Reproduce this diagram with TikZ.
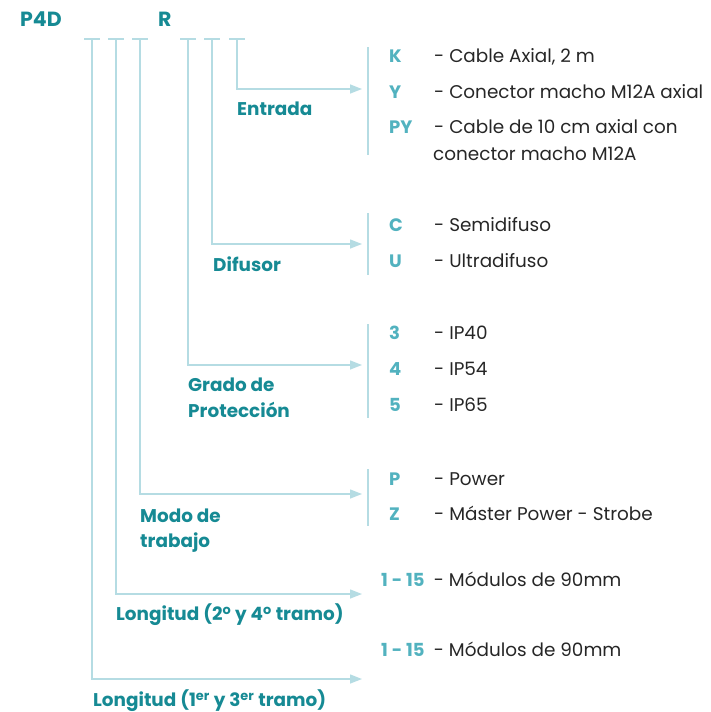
\documentclass[tikz,border=0pt]{standalone}
\usepackage{fontspec}
\setmainfont{Poppins}
\usetikzlibrary{arrows.meta}
\definecolor{tealdark}{HTML}{168A94}
\definecolor{teallight}{HTML}{52B2BF}
\definecolor{lineblue}{HTML}{B5DCE3}
\definecolor{bodytext}{HTML}{262626}
\tikzset{
  title/.style={font=\bfseries\fontsize{18.4}{22}\selectfont, text=tealdark, anchor=west, inner sep=0pt, text height=13pt, text depth=0pt},
  code/.style={font=\bfseries\fontsize{18}{22}\selectfont, text=teallight, anchor=west, inner sep=0pt, text height=13pt, text depth=0pt},
  desc/.style={font=\fontsize{18.4}{22}\selectfont, text=bodytext, anchor=west, inner sep=0pt, text height=13pt, text depth=0pt},
  tick/.style={draw=lineblue, line width=1.4pt},
  conn/.style={draw=lineblue, line width=1.4pt, -{Triangle[length=12pt,width=9pt]}},
  bracket/.style={draw=lineblue, line width=1.4pt}
}
\begin{document}
\begin{tikzpicture}[x=1pt,y=-1pt]
    \useasboundingbox (0,0) rectangle (710,712);
    % Code
    \node[title, font=\bfseries\fontsize{20.5}{24}\selectfont] (p4d) at (20,20) {P4D};
    \node[title, font=\bfseries\fontsize{20.5}{24}\selectfont] (r) at (158,20) {R};
    \foreach \n/\x in {lone/92,ltwo/116,modo/140,grado/188,dif/212,ent/237} {
        \coordinate (\n) at (\x,39);
        \draw[tick] ([xshift=-8pt]\n) -- ([xshift=8pt]\n);
    }
    % Connectors
    \foreach \n/\y in {ent/89,dif/244,grado/365,modo/494,ltwo/594,lone/679} {
        \coordinate (\n-end) at (362,\y);
        \draw[conn] (\n) |- (\n-end);
    }
    % Titles
    \node[title] (entlbl) at (237,109) {Entrada};
    \node[title] (diflbl) at (213,265) {Difusor};
    \node[title] (gradolbl) at (188,385) {Grado de};
    \node[title] (gradolblb) at (188,411) {Protección};
    \node[title] (modolbl) at (140,516) {Modo de};
    \node[title] (modolblb) at (140,541) {trabajo};
    \node[title] (ltwolbl) at (116,614) {Longitud (2\textsuperscript{o} y 4\textsuperscript{o} tramo)};
    \node[title] (lonelbl) at (93,700) {Longitud (1\textsuperscript{er} y 3\textsuperscript{er} tramo)};
    % Brackets
    \foreach \a/\b in {47/155,213/275,324/418,469/526}
        \draw[bracket] (368,\a) -- (368,\b);
    % Options
    \foreach \n/\c/\d/\y in {k/K/{Cable Axial, 2 m}/56, y/Y/{Conector macho M12A axial}/92,
        py/PY/{Cable de 10 cm axial con}/127, c/C/Semidifuso/225, u/U/Ultradifuso/261,
        three/3/IP40/333, four/4/IP54/369, five/5/IP65/405,
        p/P/Power/479, z/Z/{Máster Power - Strobe}/514} {
        \node[code] (\n) at (389,\y) {\c};
        \node[desc] (\n-d) at (434,\y) {- \d};
    }
    \node[desc] (py-db) at (433,154) {conector macho M12A};
    \node[code] (ltwo-c) at (381,580) {1 - 15};
    \node[desc] (ltwo-d) at (ltwo-c.east) [xshift=9pt] {- Módulos de 90mm};
    \node[code] (lone-c) at (381,650) {1 - 15};
    \node[desc] (lone-d) at (lone-c.east) [xshift=9pt] {- Módulos de 90mm};
\end{tikzpicture}
\end{document}
